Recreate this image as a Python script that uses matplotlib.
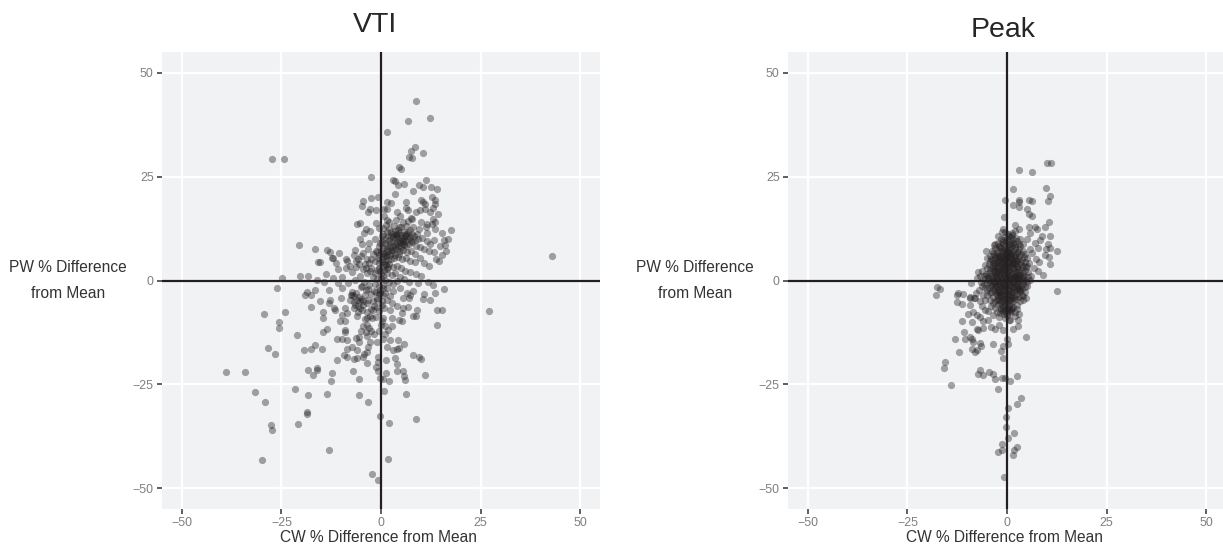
#!/usr/bin/env python3
"""
Bland-Altman style scatter: PW vs CW % difference from mean, for VTI and Peak.
"""

import matplotlib
matplotlib.use("Agg")
import matplotlib.pyplot as plt

plt.rcParams['font.family'] = ['Liberation Sans', 'DejaVu Sans']

W, H = 1223, 545

ticks = [-50, -25, 0, 25, 50]
tick_labels = ['\u221250', '\u221225', '0', '25', '50']

# points, upper half of the VTI panel
vti_upper = [
    (8.8, 43.2), (12.2, 39.2), (6.8, 38.5), (1.5, 35.8), (8.5, 32.1), (7.5, 31.2), (10.5, 30.8),
    (7.1, 29.7), (7.9, 29.4), (-24.3, 29.2), (-27.3, 29.2), (4.6, 27.2), (5, 26.9), (-2.5, 24.8),
    (3.1, 24.1), (3.4, 24), (4.3, 23), (5.8, 23.2), (11.3, 24.3), (9.6, 22.9), (10.6, 22.5),
    (12.6, 22.4), (14.1, 22.1), (8, 21.6), (3.6, 20.8), (-2.4, 19.9), (-0.7, 20), (-4.4, 19.1),
    (-4.7, 18), (1.6, 18.8), (2.6, 18.6), (6.2, 18.8), (10.1, 19.3), (10.6, 18.8), (11, 18.4),
    (12.8, 20), (13.6, 19.4), (13.6, 18.4), (13.1, 17.5), (0.7, 17.3), (1.6, 17.3), (-2.8, 17.3),
    (-1.3, 16.9), (-3.3, 16.6), (6.3, 17.5), (6.9, 17), (3.9, 16.5), (4.8, 15.5), (8.8, 16.6),
    (9.8, 17), (11.1, 17.3), (12.3, 16.6), (14.3, 16.1), (0.8, 15.5), (1.4, 14.6), (7.5, 15.1),
    (7.9, 14.7), (10, 14.1), (13, 14.7), (13.6, 14.2), (11.6, 13.5), (12.7, 13.5), (-6, 13.7),
    (-5.2, 13.8), (-1.3, 13.9), (-3.8, 12.3), (-2.8, 11.9), (-4.3, 11.4), (-0.5, 12.6), (17.6, 12.1),
    (15.2, 11.4), (13.6, 12.3), (11.6, 11.4), (9.6, 12.3), (16.9, 10), (15.8, 9.7), (14.8, 8.3),
    (16, 8.5), (16.3, 7.2), (-20.7, 8.5), (-16.5, 7.5), (-13.6, 7.3), (-12.8, 6.9), (-12, 5.5),
    (-12.4, 5.3), (-10.5, 6.5), (-8.8, 5.2), (-8.6, 4.7), (-15.8, 4.5), (-15.3, 4.4), (-6.5, 7.3),
    (-5.2, 9.9), (-4.8, 8.9), (-2.9, 9.1), (-1.5, 10), (-6.8, 6.1), (-4.4, 6.7), (-3.2, 7.5),
    (-5.7, 5.1), (-3.4, 5.1), (-4, 3.9), (-10.7, 2.7), (-13.8, 1.6), (-20.3, 1), (-18.3, 1),
    (-24.9, 0.5), (-12, 0.6), (-7.4, 2), (-5.2, 1), (-9.9, 0.9),
]

# dense middle of the VTI panel, estimated
vti_core = [
    (0.4, 12.7), (1.2, 13.3), (2.1, 12.4), (3.3, 13), (4.2, 12.1), (5.1, 12.8), (6.4, 13.2), (7.2, 12.2),
    (8.1, 12.9), (9.1, 11.3), (0.6, 11.2), (1.5, 11.6), (2.4, 10.8), (3.1, 11.1), (4.1, 10.4), (4.9, 11),
    (5.7, 10.3), (6.3, 11.2), (7.4, 10.5), (8.3, 10.8), (9.4, 9.9), (10.4, 10.2), (11.5, 9.6), (12.4, 8.9),
    (13.3, 9.7), (0.3, 9.6), (1.1, 9.1), (1.9, 9.8), (2.8, 9.3), (3.7, 8.9), (4.5, 9.5), (5.4, 8.8),
    (6.1, 9.4), (7, 8.7), (7.9, 9.2), (8.8, 8.4), (9.9, 8.1), (10.9, 7.7), (12.1, 7.2), (13.2, 6.8),
    (0.5, 7.9), (1.4, 7.5), (2.2, 8.1), (3, 7.3), (3.9, 7.7), (4.7, 7), (5.6, 7.4), (6.6, 6.8),
    (7.5, 7.1), (8.5, 6.3), (-0.6, 8.3), (-1.2, 7.1), (-2, 6.4), (-0.4, 6.1), (0.4, 6.3), (1.3, 5.8),
    (2.3, 6.2), (3.2, 5.4), (4.3, 5.7), (5.2, 5.1), (6.2, 5.4), (7.3, 4.8), (8.6, 4.5), (9.7, 5.3),
    (10.8, 4.2), (12, 3.6), (-1.4, 4.8), (-0.5, 4.1), (0.3, 4.4), (1.2, 3.7), (2.1, 4), (3.1, 3.3),
    (4.1, 3.5), (5, 2.9), (6.1, 2.4), (7.4, 2.1), (8.8, 1.6), (10.1, 1.2), (-2.4, 3.1), (-1.1, 2.6),
    (-0.2, 2.2), (0.7, 2.5), (1.6, 1.9), (2.7, 1.4), (3.6, 1.7), (4.8, 0.8), (5.9, 0.4), (7.1, -0.3),
    (9.2, -0.6), (-3.4, 1.8), (-2.1, 0.9), (-1, 0.4), (-0.1, 0.7), (0.9, 0.2), (1.9, -0.4), (2.9, -0.9),
    (4, -0.2), (-6.6, 0.2), (-8.2, -0.5), (-10.8, -0.7), (-14.4, -0.3), (-16.1, 0.2), (-4.2, -0.4), (-2.9, -1.2),
    (-1.6, -0.8), (-0.6, -1.4), (0.5, -1.1), (1.5, -1.9), (13.7, 5.2), (14.6, 4.6), (15.2, 6.1), (11.2, 12.8),
    (-7.8, 3.6), (-6.4, 3.2), (-8.9, 3.1), (-11.2, 4.2), (1.9, 14.2), (3.7, 14.6), (5.4, 14.1), (6.8, 14.3),
    # second pass over the darkest patches
    (2.6, 11.7), (3.5, 10.2), (4.4, 11.5), (5.2, 9.7), (6, 10.9), (6.8, 9.9), (3, 8.4), (4.1, 9.2),
    (5, 8.1), (5.9, 8.6), (2.2, 9.1), (3.4, 7.9), (1.7, 10.6), (0.9, 10.1), (0.2, 10.7), (-0.3, 9.1),
    (4.6, 12.9), (6.9, 11.7), (7.8, 11.1), (1, 6.7), (1.8, 7), (2.7, 6.6), (3.6, 6.2), (4.6, 6.4),
    (0.2, 5.2), (0.9, 4.8), (1.7, 5), (-0.7, 5.4), (0.6, 3.2), (-0.4, 3.1), (1.4, 2.7), (-1.6, 1.7),
    (-3.1, 4.2), (-2.4, 5.1), (-4.6, 2.8), (-3.7, 3), (-5.6, 3.9), (-2.8, 2.2), (-4.8, -1.3), (-3.3, -2.1),
    (-1.2, -2.7), (-0.2, -2.9), (0.4, -3.4), (-2.4, -3.3), (-4.1, -3.6), (-0.9, -4.8), (0.3, -4.9), (-1.7, -6.1),
    (-5.9, -6.2), (-6.9, -5.2), (-7.3, -2.8), (-5.6, -3.9), (-3.4, -7.6), (-2.6, -6.8), (-0.4, -7.4), (-1.3, -8.8),
    (0.7, -6.6), (-0.1, -10.6), (0.9, -10.9), (1.1, -12.8), (-0.6, -12.1), (-3.1, -11.4), (-4.9, -12.2), (-3.4, -13.4),
    # third pass, dark knots near (5, 10) and (1, 5)
    (4.1, 11.3), (5, 10.3), (5.8, 11.6), (6.6, 10.6), (3.4, 12), (4.7, 9), (5.6, 9.6), (6.4, 8.2),
    (3.8, 10.9), (2.9, 10.4), (7.6, 9.6), (8.5, 9.7), (4.3, 8.3), (2.5, 7.4), (1.2, 8.2), (0.7, 6),
    (1.5, 6.2), (2.4, 5.2), (0.1, 7), (-0.9, 6.9), (0.9, 3.9), (1.8, 3.2), (-0.1, 1.6), (0.6, 1.1),
    (-6.2, -3.1), (-5, -4.4), (-6.8, -6.6), (-5.8, -7.6), (-4.6, -6), (-7.6, -3.4), (-6.3, 4.6), (-5.1, 5.9),
]

vti_lower = [
    (-26.1, -1.8), (-16.6, -2.2), (-18.5, -2.7), (-17.6, -3.5), (-19.1, -3.6), (-13, -2.3), (-9.9, -1.9),
    (-15.3, -5), (-12.8, -4.8), (-13.1, -5.3), (-10, -4.3), (-17.6, -6.4), (-24.1, -7.5), (-29.4, -8),
    (-14.6, -7.7), (-14.6, -9), (-11.7, -6.6), (-11.6, -7.2), (-9, -6.6), (-25.6, -10), (-25.5, -11.4),
    (-21, -13.1), (-13.5, -11.7), (-14.5, -12.5), (-10.3, -9.8), (-9, -9.8), (-8.6, -7.8), (-9.9, -8.2),
    (-9, -11.8), (-9, -12.5), (-6, -8.6), (-3.6, -9), (-2.3, -9), (-4.4, -11), (-3.6, -10.6), (-3.8, -12.5),
    (-2.6, -12.2), (-1.7, -12.8), (-11, -14), (-9.9, -14.1), (-8.5, -14.3), (-6.4, -13.8), (-5.4, -13.6),
    (-5.4, -14.9), (-2.8, -14.7), (-1.1, -14.7), (0.6, -14), (2.3, -14.3), (4.3, -14.3), (5.9, -15.2),
    (-28.4, -16.2), (-26.6, -17.7), (-19.3, -16.7), (-17.7, -16.4), (-16.7, -15.6), (-14.9, -16.4),
    (-8.5, -16.5), (-7.2, -15.9), (-6, -16.8), (-3.2, -15.9), (-3.6, -17.2), (-4.2, -17.6), (1.4, -15.9),
    (3.1, -16.7), (4.1, -16.5), (4.6, -16.2), (-9.3, -18), (-8.6, -18.4), (-6.9, -19), (-6.1, -18.7),
    (-4.4, -18.4), (-3.6, -19.9), (-11.1, -19.1), (-0.8, -18.5), (1.2, -19.1), (3.6, -18.7), (3.9, -20.1),
    (-0.7, -19.7), (8.1, -17.9), (9.6, -18.4), (10, -18.8), (-1.3, -20.9), (-0.7, -21.7), (1.2, -22.2),
    (4.1, -21.7), (5.4, -21.7), (5.8, -23.1), (6.1, -24), (11.1, -22.7), (-38.9, -22.1), (-34.1, -22),
    (-18.4, -21.5), (-16.1, -21.1), (-16.1, -21.5), (-17.2, -22.7), (-12.4, -22.2), (-12.6, -24.1),
    (-7.1, -21.9), (-5.6, -23.6), (-0.2, -23.4), (0.4, -23.6), (1.9, -24.1), (0.8, -26.5), (6.3, -27.2),
    (-31.6, -26.8), (-29.2, -29.2), (-21.7, -26.2), (-18.3, -27.6), (-13.6, -27.3), (-5.6, -27.5),
    (-3.3, -29.2), (-18.6, -31.7), (-18.7, -32.2), (-27.6, -34.8), (-27.5, -36), (-20.8, -34.6),
    (-0.2, -32.6), (2, -34.4), (8.7, -33.4), (-13.1, -40.8), (-30, -43.3), (1.8, -42.9), (-2.3, -46.5),
    (-0.7, -48), (43, 5.8), (27, -7.3), (-7.2, -3.4), (-6.8, -3.8), (-7.8, -4.6), (-6.1, -4.6), (-5.3, -6.6),
    (-4.4, -5), (-3.2, -4.6), (-2, -5), (-1.1, -4.2), (-0.3, -2.2), (0.6, -1.8), (3.1, -2.6), (4.8, -1.8),
    (6.5, -3), (8.1, -2.6), (10.8, -3.2), (10.5, -4.4), (12.3, -4.8), (13.5, -3), (15.9, -2), (13, -1),
    (11.9, -0.4), (5.5, -4.2), (7.1, -4.2), (7.4, -3.4), (14.1, -7), (15.3, -7.2), (9.1, -7.2), (8.1, -8.5),
    (8.8, -8.5), (14.1, -10.6), (5.2, -9.8), (4.6, -9.4), (5.6, -6.6), (6.9, -6.4), (5.2, -7.8), (2.3, -7),
    (2.7, -9), (1.8, -11.8), (2.7, -11), (0.6, -9), (0.2, -9.8), (-2.8, -8.6), (-4, -9.3), (-5.3, -5),
    (-6.5, -5.8), (-3.6, -5.4), (-4.7, -7), (-2, -7), (1.4, -4.6), (2.7, -5.4), (3.9, -6.2),
    (-0.6, -3.3), (-1.8, -2.6), (-3.7, -2.4), (-5.1, -1.6), (1.1, -3.1), (2.2, -3.7), (0.2, -5.8), (-0.9, -6.4),
]

# Peak panel, readable points around the core
peak_upper = [
    (10.1, 28.2), (11.1, 28.2), (2.9, 26.6), (6.3, 26), (1.6, 22), (9.8, 22.2), (10.7, 20.4), (10.4, 19.2),
    (-0.6, 19.4), (3, 19.4), (3, 18.8), (1.6, 18.1), (3.1, 17.6), (5.4, 19.3), (6.3, 19.2), (4.9, 17.2),
    (5.6, 16), (6.2, 15.6), (-0.8, 15.4), (10.5, 14.1), (9.5, 12.9), (1.9, 13.4), (-0.9, 12.3), (-1.3, 11.7),
    (-2.3, 10.7), (3.1, 12.3), (5.4, 12.9), (7, 12.9), (7.5, 12.3), (5.8, 11.5), (2, 11.9), (1.2, 11.5),
    (10.9, 10.6), (8.7, 10.7), (8.3, 9.8), (10.4, 8.9), (10.7, 7.9), (9.8, 7.5), (12.6, 7), (9.5, 6.1),
    (10.6, 5.6), (10.8, 3.9), (9.1, 1.4), (7.9, 7.9), (7, 9.1), (4.9, 9.9), (4.1, 8.7), (3.3, 9.9),
    (-3, 8.8), (-5.2, 7), (-4.3, 4.7), (-7.2, 2), (-7.5, 0.6), (-9.1, -0.6), (-17.7, -1.5), (-16.8, -2),
    (12.5, -2.5), (6.4, 6.6), (7.4, 5.2), (8.1, 4.4), (6.9, 3.1), (7.7, 2.2), (5.7, 7.6), (4.5, 6.3),
]

peak_lower = [
    (-17.9, -3.5), (-12.6, -3.5), (-12.2, -3.1), (-11, -3.2), (-9.3, -3.9), (-8, -4.2), (-12.6, -5.2),
    (-11.2, -5.6), (-9.3, -4.2), (-8.2, -4.2), (-9.3, -6), (-9.7, -8), (-11.2, -9.7), (-8.9, -10),
    (-10.9, -12.3), (-13.1, -14), (-12, -17.2), (-15.6, -19.5), (-15.8, -21), (-14.1, -25.1), (-10.6, -14),
    (-9.3, -13.5), (-8.9, -14.1), (-8.5, -14.7), (-8.7, -16.4), (-8, -17.1), (-7.6, -16.7), (-6.8, -15.1),
    (-6.6, -15.7), (-3.6, -15.2), (-1.5, -16.9), (-1.1, -15.7), (0.1, -14.1), (0.2, -15.3), (-0.9, -18.7),
    (4.8, -13.5), (-7.6, -11.6), (-7.2, -12), (-6, -11.5), (-3.9, -11.2), (-3, -11.6), (-0.9, -11.9),
    (1.4, -11.6), (2.8, -11), (-8.5, -7.7), (-7.6, -8.2), (-6.9, -8.9), (-6, -9.8), (-4.7, -9.6), (-1.9, -10.6),
    (0.7, -9.4), (2.8, -9.6), (-6.9, -21.5), (-7.4, -22.5), (-6, -22.7), (-4.6, -22.1), (-3.5, -22.5),
    (-3, -23.8), (-1.3, -23.5), (-0.5, -23.5), (0.7, -24.3), (2.4, -23.1), (-2.3, -26.2), (3.4, -28.3),
    (2.4, -29.7), (0.3, -30.8), (-0.2, -32.9), (-0.3, -35.3), (1.8, -36.7), (0.3, -37.8), (-1.2, -39.4),
    (2.4, -40), (1.8, -40.8), (1.4, -41.9), (-1.2, -40.8), (-2.2, -41.3), (-0.7, -47.3), (-5.1, -2.2),
    (-4.3, -3), (-6, -3.4), (-5.5, -4.6), (-2.6, -4.6), (3.3, -2.2), (4.1, -3.8), (4.8, -4.2), (2.4, -5.8),
    (3.1, -8), (2, -8.6), (-0.1, -7.8), (-1.8, -7.8), (-4.7, -7.4), (-3.5, -8.2), (-6.4, -6.2), (-5.5, -7),
    (1.2, -6.6),
]

# solid black blob in the middle of the Peak panel, estimated
peak_core = [
    (-3.8, 7.2), (-2.9, 7.8), (-2, 8.3), (-1.1, 8.8), (-0.2, 9.3), (0.7, 9.6), (1.5, 10), (2.4, 9.4),
    (-3.3, 6.1), (-2.4, 6.7), (-1.5, 7.2), (-0.6, 7.7), (0.3, 8.1), (1.2, 8.4), (2.1, 8.1), (3, 7.6),
    (-4.1, 5.2), (-3.1, 5.4), (-2.2, 5.8), (-1.2, 6.2), (-0.3, 6.5), (0.6, 6.9), (1.5, 7.1), (2.4, 6.7),
    (3.4, 6.3), (-4.4, 4), (-3.5, 4.3), (-2.6, 4.6), (-1.7, 4.9), (-0.8, 5.1), (0.1, 5.4), (1, 5.7),
    (1.9, 5.5), (2.8, 5.2), (3.7, 4.9), (-5, 2.9), (-4, 3.1), (-3.1, 3.4), (-2.2, 3.6), (-1.3, 3.9),
    (-0.4, 4.2), (0.5, 4.4), (1.4, 4.6), (2.3, 4.2), (3.2, 3.9), (4.2, 3.5), (-5.3, 1.6), (-4.5, 1.9),
    (-3.6, 2.2), (-2.7, 2.4), (-1.8, 2.7), (-0.9, 3), (0, 3.2), (0.9, 3.4), (1.8, 3.1), (2.7, 2.8),
    (3.6, 2.6), (4.6, 2.2), (-5.6, 0.4), (-4.7, 0.7), (-3.9, 1), (-3, 1.2), (-2.1, 1.5), (-1.2, 1.8),
    (-0.3, 2), (0.6, 2.2), (1.5, 1.9), (2.4, 1.7), (3.3, 1.4), (4.2, 1.1), (5.2, 0.8), (-5.1, -0.6),
    (-4.2, -0.3), (-3.3, 0), (-2.4, 0.3), (-1.5, 0.6), (-0.6, 0.8), (0.3, 1), (1.2, 0.7), (2.1, 0.5),
    (3, 0.2), (3.9, -0.1), (4.9, -0.4), (-4.6, -1.7), (-3.7, -1.4), (-2.8, -1.1), (-1.9, -0.8), (-1, -0.5),
    (-0.1, -0.2), (0.8, -0.4), (1.7, -0.7), (2.6, -1), (3.5, -1.3), (4.4, -1.6), (-4, -2.8), (-3.1, -2.5),
    (-2.2, -2.2), (-1.3, -1.9), (-0.4, -1.6), (0.5, -1.8), (1.4, -2), (2.3, -2.3), (3.2, -2.6), (-3.4, -3.9),
    (-2.5, -3.6), (-1.6, -3.3), (-0.7, -3), (0.2, -3.2), (1.1, -3.4), (2, -3.7), (2.9, -4), (-2.9, -5),
    (-2, -4.7), (-1.1, -4.4), (-0.2, -4.5), (0.7, -4.7), (1.6, -5), (-2.2, -6), (-1.3, -5.8), (-0.4, -5.9),
    (0.5, -6.1), (1.4, -6.3), (-1.4, -7), (-0.5, -7.1), (0.4, -7.2), (-4.9, 1.2), (4.8, 3.2), (5.3, 2.1),
    (5.6, 4.1), (6.1, 1.2), (-6.3, -1.3), (-7, -2.4), (-6.5, -0.3), (-3.2, 8.6), (0.6, 10.8), (-0.4, 10.4),
    # second pass, the blob is close to solid here
    (-1.7, 8.1), (-0.8, 7.1), (0.9, 8.9), (1.9, 7.6), (2.8, 6.9), (-2.7, 5.9), (-1.9, 6), (-0.9, 6.9),
    (0.2, 7.3), (1.1, 6.4), (2, 5.9), (3.1, 5.8), (-3.6, 3.6), (-2.9, 4.1), (-2.1, 4.4), (-1.1, 4.5),
    (-0.2, 4.9), (0.8, 5), (1.7, 3.9), (2.6, 3.6), (3.7, 3.2), (-4.2, 2.5), (-3.3, 2.8), (-2.4, 3),
    (-1.5, 3.2), (-0.6, 3.5), (0.3, 3.8), (1.2, 4), (2.1, 2.4), (3, 2.1), (3.9, 1.8), (-4.4, 0.1),
    (-3.5, 0.6), (-2.6, 0.9), (-1.7, 1.2), (-0.8, 1.3), (0.1, 1.6), (1, 1.3), (1.9, 1.1), (2.8, 0.9),
    (3.7, 0.5), (4.5, 0.1), (-3.9, -1), (-3, -0.5), (-2.1, -0.2), (-1.2, 0), (-0.3, 0.3), (0.6, 0.4),
    (1.5, 0.1), (2.4, -0.2), (3.3, -0.6), (4.1, -0.9), (-3.4, -2), (-2.5, -1.6), (-1.6, -1.4), (-0.7, -1.1),
    (0.2, -0.9), (1.1, -1.2), (2, -1.4), (2.9, -1.7), (3.8, -2.1), (-2.8, -3.1), (-1.9, -2.8), (-1, -2.4),
    (-0.1, -2.3), (0.8, -2.6), (1.7, -2.8), (2.6, -3.2), (-2.3, -4.2), (-1.4, -3.9), (-0.5, -3.7), (0.4, -3.9),
    (1.3, -4.2), (2.2, -4.5), (-1.7, -5.3), (-0.8, -5.1), (0.1, -5.3), (1, -5.5), (-1.1, -6.5), (-0.1, -6.6),
    (0.9, -6.8), (-0.8, -8), (0.1, -8.4), (0.8, -7.9), (-2.3, 7.4), (-1.4, 7.9), (-0.5, 8.4), (0.5, 8.7),
    (1.4, 9.1), (-0.9, 9.7), (0.1, 9.9), (1, 10.4), (-3.4, 5), (-0.1, 7), (0.8, 7.7), (1.7, 6.3),
    (-1.9, 5.3), (-1, 5.6), (0, 5.9), (0.9, 6.1), (2.6, 4.6), (3.4, 4.5), (-5.9, 1.2), (-6.2, 2.4),
    (-5.4, 3.7), (-4.9, 5.3), (4.3, 5.6), (3.9, 7.2), (3, 8.7), (5.7, 0.1), (5.1, -1.3), (4.6, -2.7),
    (3.7, -3.4), (3.3, -5), (2.6, -6.9), (-3.6, -5.3), (-4.2, -4.6), (-5.4, -1.9), (-5.9, -0.9), (-3, -6.6),
    # third pass, darkest centre
    (-0.6, 6.2), (0.4, 6.5), (1.3, 5.2), (2.2, 5), (-1.5, 5.7), (-0.5, 5.3), (0.5, 5.6), (-2.4, 4.1),
    (-1.4, 4.2), (-0.5, 3.9), (0.6, 4.1), (1.6, 4.3), (2.5, 3.2), (-3, 2.1), (-2.2, 2.3), (-1.3, 2.5),
    (-0.4, 2.8), (0.5, 2.9), (1.4, 3), (2.2, 1.3), (3, 1.2), (-3.6, 1), (-2.7, 1.5), (-1.8, 1.9),
    (-0.9, 2.2), (0.2, 2.4), (1.1, 2.1), (1.8, 0.9), (2.7, 0.5), (-3.4, -0.3), (-2.5, 0), (-1.6, 0.2),
    (-0.7, 0.5), (0.1, 0.6), (1, 0.5), (1.6, -0.4), (2.5, -0.8), (-2.9, -1.6), (-2, -1.3), (-1.1, -1),
    (-0.2, -1), (0.7, -1.1), (1.5, -1.5), (2.4, -1.9), (-2.3, -2.7), (-1.4, -2.5), (-0.5, -2.2), (0.4, -2.4),
    (1.2, -2.8), (-1.8, -3.8), (-0.9, -3.5), (0, -3.4), (0.9, -3.8), (-1.2, -4.9), (-0.3, -4.7), (0.6, -5),
    (1.8, -4.1), (-0.9, -7.4), (0.2, -6.9), (-1.6, -6.5), (1.1, -7.4), (-0.6, -9), (0.5, -9.6), (-2.6, -7.6),
    (2, 8.9), (-1.2, 9.2), (-2.2, 9.1), (0.2, 11.2), (-0.6, 11.6), (1.3, 11), (3.2, 8.2), (2.3, 10.3),
    (-3.6, 6.7), (-4.3, 6), (4.6, 4.4), (5, 5.4), (-1.6, 10.1), (3.9, 0.9), (5.1, 3.6), (-6.8, 1),
    (-4.9, -3.6), (-3.9, -6.2), (-2, -8.9), (1.9, -7.6), (3.9, -4.6), (2.9, -2.4), (-7.9, -3.1), (-6.7, -4.9),
]


def draw_panel(fig, left, right, title, title_xy, label_x, points):
    ax = fig.add_axes([left / W, 1 - 509 / H, (right - left) / W, 457 / H])
    ax.set_facecolor('#f1f2f4')
    ax.set_xlim(-55, 55)
    ax.set_ylim(-55, 55)
    ax.grid(True, color='white', linewidth=1.6)
    ax.set_axisbelow(True)
    for side in ax.spines.values():
        side.set_visible(False)

    ax.set_xticks(ticks, tick_labels)
    ax.set_yticks(ticks, tick_labels)
    ax.tick_params(colors='#333333', labelcolor='#7f7f7f', labelsize=8.9, length=3.5, width=1.1, pad=2.5)

    ax.axhline(0, color='#231f20', linewidth=1.6, zorder=2)
    ax.axvline(0, color='#231f20', linewidth=1.6, zorder=2)

    xs = [p[0] for p in points]
    ys = [p[1] for p in points]
    ax.scatter(xs, ys, s=27, color='#231f20', alpha=0.4, linewidths=0, zorder=3)

    fig.text(title_xy[0] / W, 1 - title_xy[1] / H, title, fontsize=20.5, color='#262626', ha='center', va='center')
    fig.text((left + right) / 2 / W - 3 / W, 1 - 537 / H, 'CW % Difference from Mean', fontsize=11.2,
             color='#333333', ha='center', va='center')
    fig.text(label_x / W, 1 - 268 / H, 'PW % Difference', fontsize=11.2, color='#333333', ha='center', va='center')
    fig.text(label_x / W, 1 - 294 / H, 'from Mean', fontsize=11.2, color='#333333', ha='center', va='center')
    return ax


fig = plt.figure(figsize=(W / 100, H / 100), dpi=100)
draw_panel(fig, 162, 600, 'VTI', (375, 25), 68, vti_upper + vti_core + vti_lower)
draw_panel(fig, 788, 1226, 'Peak', (1003, 30), 695, peak_upper + peak_lower + peak_core)
fig.savefig('out.png', dpi=100)
